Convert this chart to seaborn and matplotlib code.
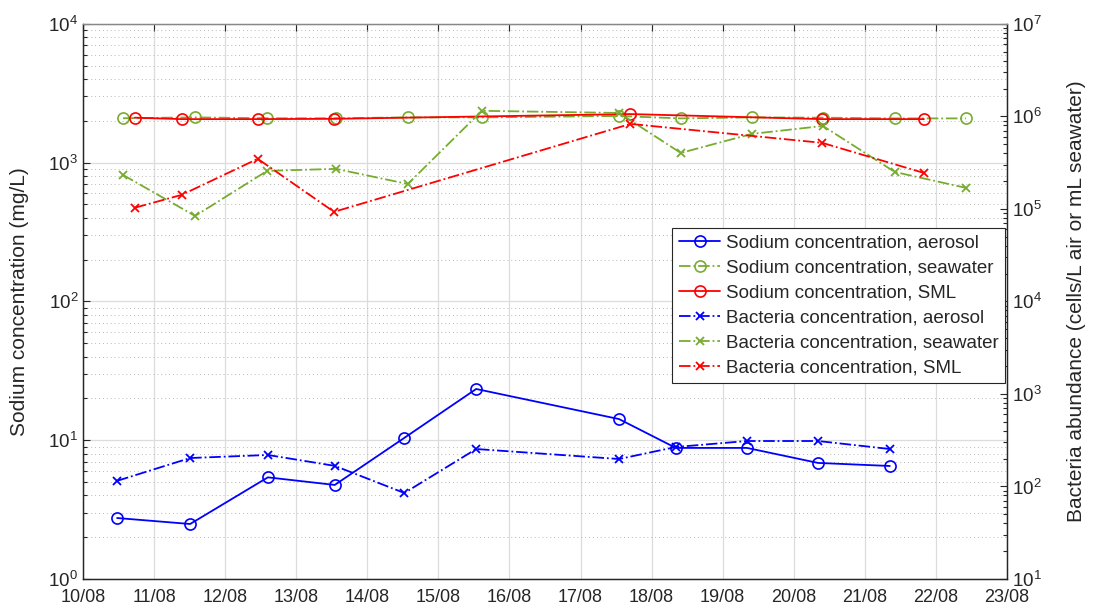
import numpy as np
import pandas as pd
import matplotlib
matplotlib.use("Agg")
import matplotlib.pyplot as plt
import matplotlib.dates as mdates
from matplotlib.ticker import LogLocator, NullFormatter
import seaborn as sns

# ---------------- data ----------------
aerosol_times = ["2016-08-10 11:30", "2016-08-11 12:10", "2016-08-12 14:25", "2016-08-13 13:00",
                 "2016-08-14 12:30", "2016-08-15 12:45", "2016-08-17 13:00", "2016-08-18 08:10",
                 "2016-08-19 08:10", "2016-08-20 08:10", "2016-08-21 08:25"]
sodium_aerosol = [2.75, 2.49, 5.4, 4.76, 10.4, 23.4, 14.2, 8.8, 8.8, 6.86, 6.52]
bacteria_aerosol = [115, 203, 219, 167, 85, 254, 198, 267, 310, 310, 254]

seawater_times = ["2016-08-10 13:30", "2016-08-11 13:50", "2016-08-12 14:10", "2016-08-13 13:25",
                  "2016-08-14 13:40", "2016-08-15 14:40", "2016-08-17 13:00", "2016-08-18 09:50",
                  "2016-08-19 09:50", "2016-08-20 09:50", "2016-08-21 10:05", "2016-08-22 10:05"]
sodium_seawater = [2090, 2120, 2090, 2090, 2120, 2120, 2170, 2085, 2120, 2110, 2085, 2085]
bacteria_seawater = [233000, 84000, 258000, 271000, 186000, 1150000, 1090000, 403000,
                     647000, 789000, 251000, 169000]

sml_times = ["2016-08-10 17:30", "2016-08-11 09:20", "2016-08-12 11:00", "2016-08-13 12:45",
             "2016-08-17 16:50", "2016-08-20 09:35", "2016-08-21 19:55"]
sodium_sml = [2110, 2060, 2060, 2070, 2240, 2060, 2060]
bacteria_sml = [103000, 142000, 348000, 93000, 830000, 518000, 245000]

labels = ["Sodium concentration, aerosol", "Sodium concentration, seawater",
          "Sodium concentration, SML", "Bacteria concentration, aerosol",
          "Bacteria concentration, seawater", "Bacteria concentration, SML"]

xtick_dates = pd.date_range("2016-08-10", "2016-08-23", freq="D")

# ---------------- style ----------------
sns.set_style("white")
plt.rcParams["font.family"] = ["Liberation Sans", "DejaVu Sans"]
plt.rcParams["mathtext.fontset"] = "custom"
plt.rcParams["mathtext.rm"] = "Liberation Sans"
plt.rcParams["mathtext.default"] = "regular"

BLUE = "#0000FF"
GREEN = "#77AC30"
RED = "#FF0000"

fig = plt.figure(figsize=(10.94, 6.13), dpi=100)
ax = fig.add_axes([0.0759, 0.0555, 0.8446, 0.9055])
ax2 = ax.twinx()

t_aer = pd.to_datetime(aerosol_times)
t_sea = pd.to_datetime(seawater_times)
t_sml = pd.to_datetime(sml_times)

common = dict(ax=ax, estimator=None, sort=False, lw=1.3, ms=8, mew=1.2)
sns.lineplot(x=t_aer, y=sodium_aerosol, color=BLUE, marker="o", mfc="none", mec=BLUE,
             linestyle="-", label=labels[0], **common)
sns.lineplot(x=t_sea, y=sodium_seawater, color=GREEN, marker="o", mfc="none", mec=GREEN,
             linestyle="-.", label=labels[1], **common)
sns.lineplot(x=t_sml, y=sodium_sml, color=RED, marker="o", mfc="none", mec=RED,
             linestyle="-", label=labels[2], **common)

common2 = dict(ax=ax2, estimator=None, sort=False, lw=1.3, ms=6, mew=1.3)
sns.lineplot(x=t_aer, y=bacteria_aerosol, color=BLUE, marker="x", mec=BLUE,
             linestyle="-.", label=labels[3], **common2)
sns.lineplot(x=t_sea, y=bacteria_seawater, color=GREEN, marker="x", mec=GREEN,
             linestyle="-.", label=labels[4], **common2)
sns.lineplot(x=t_sml, y=bacteria_sml, color=RED, marker="x", mec=RED,
             linestyle="-.", label=labels[5], **common2)

# axes scales
ax.set_yscale("log")
ax2.set_yscale("log")
ax.set_ylim(1, 1e4)
ax2.set_ylim(10, 1e7)
ax.set_xlim(xtick_dates[0], xtick_dates[-1])
ax.set_xticks(xtick_dates)
ax.xaxis.set_major_formatter(mdates.DateFormatter("%d/%m"))

for a in (ax, ax2):
    a.yaxis.set_major_locator(LogLocator(base=10, numticks=20))
    a.yaxis.set_minor_locator(LogLocator(base=10, subs=np.arange(2, 10), numticks=20))
    a.yaxis.set_minor_formatter(NullFormatter())

ax.tick_params(axis="both", which="major", direction="in", length=5, width=0.8,
               labelsize=13.5, colors="#262626", top=True)
ax.tick_params(axis="y", which="minor", direction="in", length=3, width=0.8, colors="#262626")
ax.tick_params(axis="x", which="major", pad=7, labelsize=13)
ax2.tick_params(axis="y", which="major", direction="in", length=5, width=0.8,
                labelsize=13.5, colors="#262626")
ax2.tick_params(axis="y", which="minor", direction="in", length=3, width=0.8, colors="#262626")

# grid
ax.grid(True, which="major", axis="both", color="#dcdcdc", lw=0.9, ls="-")
ax.grid(True, which="minor", axis="y", color="#b8b8b8", lw=0.7, ls=(0, (1, 3)))
ax.set_axisbelow(True)

for s in ("left", "bottom", "right"):
    ax.spines[s].set_color("#262626")
    ax2.spines[s].set_color("#262626")
ax.spines["top"].set_color("#888888")
ax2.spines["top"].set_color("#888888")
for sp in list(ax.spines.values()) + list(ax2.spines.values()):
    sp.set_linewidth(0.9)

ax.set_ylabel("Sodium concentration (mg/L)", fontsize=15, color="#262626", labelpad=14)
ax2.set_ylabel("Bacteria abundance (cells/L air or mL seawater)", fontsize=15,
               color="#262626", labelpad=18)
ax.set_xlabel("")

# legend
h1, l1 = ax.get_legend_handles_labels()
h2, l2 = ax2.get_legend_handles_labels()
if ax.get_legend() is not None:
    ax.get_legend().remove()
leg = ax2.legend(h1 + h2, l1 + l2, loc="upper right", bbox_to_anchor=(0.998, 0.632),
                 fontsize=13.5, frameon=True, fancybox=False, edgecolor="#262626",
                 framealpha=1, borderpad=0.35, labelspacing=0.42, handlelength=2.2,
                 handletextpad=0.3, borderaxespad=0)
leg.get_frame().set_linewidth(0.8)

fig.savefig("out.png", dpi=100)
